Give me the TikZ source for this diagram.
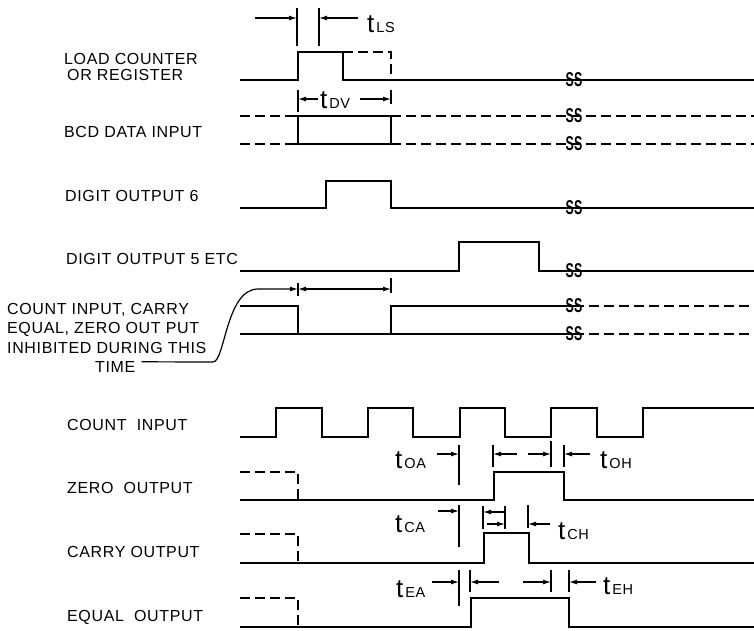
\documentclass[tikz,border=0pt]{standalone}
\usepackage{fontspec}
\setmainfont{Liberation Sans}
\newfontfamily\lettering{Liberation Sans}[LetterSpace=4]
\usetikzlibrary{arrows.meta}

\newcommand\tlab[1]{{\fontsize{26}{26}\selectfont t}\kern2pt{\lettering\fontsize{14.5}{14.5}\selectfont #1}}

\begin{document}
\begin{tikzpicture}[x=1pt, y=-1pt,
			sig/.style={line width=1.5pt, line join=miter},
			dsig/.style={sig, dash pattern=on 10pt off 5pt},
			tickln/.style={line width=1.2pt},
			dimarrow/.style={-{Latex[length=8pt,width=5pt]}, line width=1.2pt},
			lbl/.style={anchor=base west, inner sep=0pt, font=\lettering\fontsize{16}{19.5}\selectfont, align=left},
			tlbl/.style={anchor=base west, inner sep=0pt},
			brk/.style={inner sep=0pt, font=\bfseries\fontsize{20}{20}\selectfont}
		]
		\useasboundingbox (0,0) rectangle (754,630);

		% Signal names (base = last line)
		\node[lbl, font=\lettering\fontsize{16}{16}\selectfont] (load) at (64,80) {LOAD COUNTER\\\kern3pt OR REGISTER};
		\node[lbl] (bcd) at (64,137) {BCD DATA INPUT};
		\node[lbl] (dig6) at (65,201) {DIGIT OUTPUT 6};
		\node[lbl] (dig5) at (66,264) {DIGIT OUTPUT 5 ETC};
		\node[lbl] (inhib) at (7,353) {COUNT INPUT, CARRY\\EQUAL, ZERO OUT PUT\\INHIBITED DURING THIS};
		\node[lbl] (time) at (95,372) {TIME};
		\node[lbl] (cnt) at (67,430) {COUNT \ INPUT};
		\node[lbl] (zero) at (67,493) {ZERO \ OUTPUT};
		\node[lbl] (carry) at (67,557) {CARRY OUTPUT};
		\node[lbl] (equal) at (67,621) {EQUAL \ OUTPUT};

		% Load counter
		\draw[sig] (240,80) -- (298,80) -- (298,52) -- (343,52) -- (343,80) -- (754,80);
		\draw[dsig] (343,52) -- (391,52) -- (391,80);

		% BCD data input
		\draw[dsig] (240,116) -- (287,116);
		\draw[dsig] (240,144) -- (287,144);
		\draw[sig] (287,116) -- (391,116);
		\draw[sig] (287,144) -- (391,144);
		\draw[sig] (298,116) -- (298,144);
		\draw[sig] (391,116) -- (391,144);
		\draw[dsig] (391,116) -- (754,116);
		\draw[dsig] (391,144) -- (754,144);

		% Digit outputs
		\draw[sig] (240,208) -- (326,208) -- (326,181) -- (391,181) -- (391,208) -- (754,208);
		\draw[sig] (240,271) -- (459,271) -- (459,242) -- (539,242) -- (539,271) -- (754,271);

		% Inhibit window
		\draw[sig] (240,306) -- (298,306) -- (298,334);
		\draw[sig] (240,334) -- (574,334);
		\draw[sig] (391,334) -- (391,306) -- (574,306);
		\draw[dsig] (574,306) -- (754,306);
		\draw[dsig] (574,334) -- (754,334);

		% Breaks
		\foreach \y in {80,116,144,208,271,306,334}
			\node[brk] at (574,\y) {\scalebox{0.62}[1]{SS}};

		% Count input
		\draw[sig] (240,437) -- (276,437) -- (276,408) -- (322,408) -- (322,437)
			-- (368,437) -- (368,408) -- (413,408) -- (413,437)
			-- (460,437) -- (460,408) -- (505,408) -- (505,437)
			-- (551,437) -- (551,408) -- (597,408) -- (597,437)
			-- (643,437) -- (643,408) -- (754,408);

		% Zero, carry, equal outputs
		\draw[dsig] (240,472) -- (298,472) -- (298,500);
		\draw[sig] (240,500) -- (494,500) -- (494,472) -- (564,472) -- (564,500) -- (754,500);
		\draw[dsig] (240,534) -- (298,534) -- (298,563);
		\draw[sig] (240,563) -- (484,563) -- (484,533) -- (529,533) -- (529,563) -- (754,563);
		\draw[dsig] (240,598) -- (298,598) -- (298,627);
		\draw[sig] (240,627) -- (471,627) -- (471,598) -- (569,598) -- (569,627) -- (754,627);

		% t_LS
		\draw[tickln] (297,8) -- (297,46);
		\draw[tickln] (319,8) -- (319,46);
		\draw[dimarrow] (255,18) -- (297,18);
		\draw[dimarrow] (358,18) -- (319,18);
		\node[tlbl] (tls) at (367,32) {\tlab{LS}};

		% t_DV
		\draw[tickln] (298,90) -- (298,112);
		\draw[tickln] (391,90) -- (391,104);
		\draw[dimarrow] (318,99) -- (298,99);
		\draw[dimarrow] (360,99) -- (391,99);
		\node[tlbl] (tdv) at (320,108) {\tlab{DV}};

		% Inhibit time
		\coordinate (inh) at (298,289);
		\draw[tickln] (298,283) -- (298,296);
		\draw[tickln] (391,278) -- (391,293);
		\draw[{Latex[length=8pt,width=5pt]}-{Latex[length=8pt,width=5pt]}, line width=1.2pt] (inh) -- (391,289);
		\draw[dimarrow] ([xshift=6pt,yshift=-1pt]time.north east) -- (213,362)
			.. controls (225,362) and (226,289) .. (258,289) -- (inh);

		% t_OA, t_OH
		\draw[tickln] (459,445) -- (459,485);
		\draw[dimarrow] (437,454) -- (459,454);
		\node[tlbl] (toa) at (395,468) {\tlab{OA}};
		\draw[tickln] (493,445) -- (493,467);
		\draw[dimarrow] (517,454) -- (493,454);
		\draw[dimarrow] (528,454) -- (551,454);
		\draw[tickln] (551,441) -- (551,467);
		\draw[tickln] (564,445) -- (564,467);
		\draw[dimarrow] (590,454) -- (564,454);
		\node[tlbl] (toh) at (600,468) {\tlab{OH}};

		% t_CA, t_CH
		\draw[tickln] (459,505) -- (459,547);
		\draw[dimarrow] (438,511) -- (459,511);
		\node[tlbl] (tca) at (395,532) {\tlab{CA}};
		\draw[tickln] (483,506) -- (483,529);
		\draw[tickln] (505,506) -- (505,529);
		\draw[dimarrow] (505,512) -- (483,512);
		\draw[dimarrow] (487,524) -- (505,524);
		\draw[tickln] (528,505) -- (528,528);
		\draw[dimarrow] (550,524) -- (528,524);
		\node[tlbl] (tch) at (558,539) {\tlab{CH}};

		% t_EA, t_EH
		\draw[tickln] (459,570) -- (459,606);
		\draw[dimarrow] (432,582) -- (459,582);
		\node[tlbl] (tea) at (396,597) {\tlab{EA}};
		\draw[tickln] (470,570) -- (470,592);
		\draw[dimarrow] (499,582) -- (470,582);
		\draw[dimarrow] (523,582) -- (551,582);
		\draw[tickln] (551,570) -- (551,592);
		\draw[tickln] (569,570) -- (569,592);
		\draw[dimarrow] (596,582) -- (569,582);
		\node[tlbl] (teh) at (603,594) {\tlab{EH}};
	\end{tikzpicture}
\end{document}
